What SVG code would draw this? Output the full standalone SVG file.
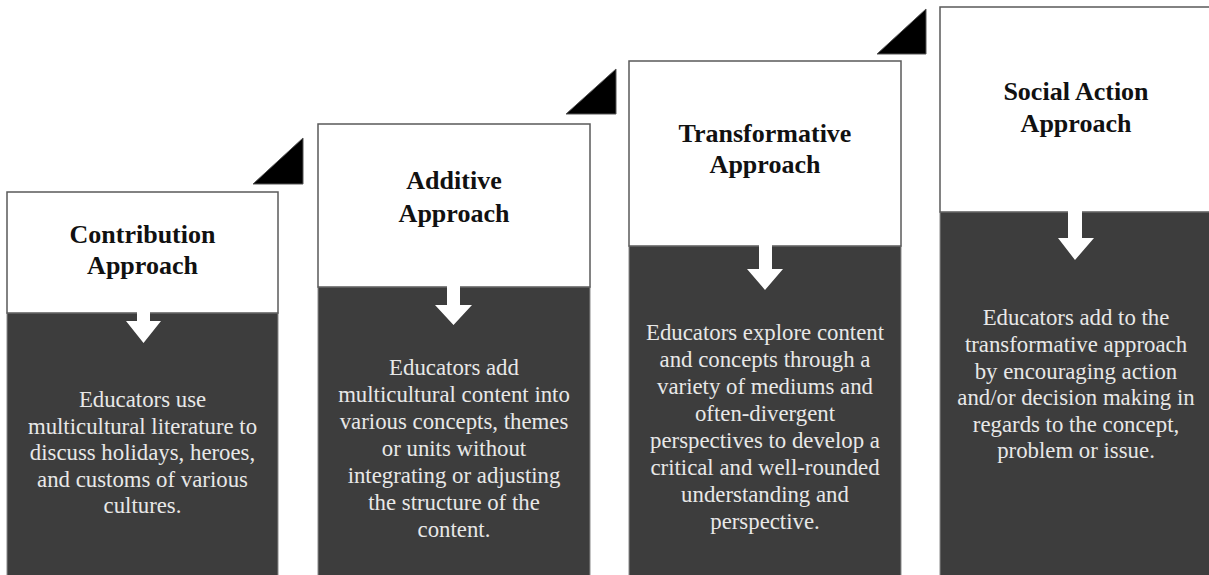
<svg xmlns="http://www.w3.org/2000/svg" width="1209" height="575" viewBox="0 0 1209 575">
<style>
.top{fill:#ffffff;stroke:#5a5a5a;stroke-width:1.5}
.bot{fill:#3d3d3d;stroke:#8a8a8a;stroke-width:1}
.tri{fill:#000;stroke:#555;stroke-width:1}
.arw{fill:#fff;stroke:none}
.title{font-family:'Liberation Serif','DejaVu Serif',serif;font-weight:bold;font-size:26px;fill:#111;text-anchor:middle}
.body{font-family:'Liberation Serif','DejaVu Serif',serif;font-size:22.8px;fill:#e8e8e8;text-anchor:middle}
</style>
<rect width="1209" height="575" fill="#fff"/>
<g id="node-contribution">
<rect class="bot" x="7" y="313" width="271" height="270"/>
<rect class="top" x="7" y="192" width="271" height="121"/>
<polygon class="tri" points="253,184 303,184 303,138"/>
<text class="title"><tspan x="142.5" y="243">Contribution</tspan><tspan x="142.5" y="274">Approach</tspan></text>
<text class="body"><tspan x="142.5" y="407">Educators use</tspan><tspan x="142.5" y="433.5">multicultural literature to</tspan><tspan x="142.5" y="460">discuss holidays, heroes,</tspan><tspan x="142.5" y="486.5">and customs of various</tspan><tspan x="142.5" y="513">cultures.</tspan></text>
</g>
<g id="node-additive">
<rect class="bot" x="318" y="287" width="272" height="296"/>
<rect class="top" x="318" y="124" width="272" height="163"/>
<polygon class="tri" points="566,114 616,114 616,69"/>
<text class="title"><tspan x="454" y="189">Additive</tspan><tspan x="454" y="222">Approach</tspan></text>
<text class="body"><tspan x="454" y="375">Educators add</tspan><tspan x="454" y="402">multicultural content into</tspan><tspan x="454" y="429">various concepts, themes</tspan><tspan x="454" y="456">or units without</tspan><tspan x="454" y="483">integrating or adjusting</tspan><tspan x="454" y="510">the structure of the</tspan><tspan x="454" y="537">content.</tspan></text>
</g>
<g id="node-transformative">
<rect class="bot" x="629" y="246" width="272" height="337"/>
<rect class="top" x="629" y="61" width="272" height="185"/>
<polygon class="tri" points="877,54 926,54 926,9"/>
<text class="title"><tspan x="765" y="142">Transformative</tspan><tspan x="765" y="173">Approach</tspan></text>
<text class="body"><tspan x="765" y="340">Educators explore content</tspan><tspan x="765" y="367">and concepts through a</tspan><tspan x="765" y="394">variety of mediums and</tspan><tspan x="765" y="421">often-divergent</tspan><tspan x="765" y="448">perspectives to develop a</tspan><tspan x="765" y="475">critical and well-rounded</tspan><tspan x="765" y="502">understanding and</tspan><tspan x="765" y="529">perspective.</tspan></text>
</g>
<g id="node-social-action">
<rect class="bot" x="940" y="212" width="272" height="371"/>
<rect class="top" x="940" y="7" width="272" height="205"/>
<text class="title"><tspan x="1076" y="100">Social Action</tspan><tspan x="1076" y="132">Approach</tspan></text>
<text class="body"><tspan x="1076" y="325">Educators add to the</tspan><tspan x="1076" y="352">transformative approach</tspan><tspan x="1076" y="378.5">by encouraging action</tspan><tspan x="1076" y="405">and/or decision making in</tspan><tspan x="1076" y="431.5">regards to the concept,</tspan><tspan x="1076" y="458">problem or issue.</tspan></text>
</g>
<g id="connectors">
<polygon class="arw" points="137,312 150,312 150,321 161,321 143.5,343 126,321 137,321"/>
<polygon class="arw" points="447,286 460,286 460,305 472,305 453.5,325 435,305 447,305"/>
<polygon class="arw" points="759,245 772,245 772,269 783,269 765,290 747,269 759,269"/>
<polygon class="arw" points="1068,211 1082,211 1082,238 1094,238 1075,260 1058,238 1068,238"/>
</g>
</svg>
